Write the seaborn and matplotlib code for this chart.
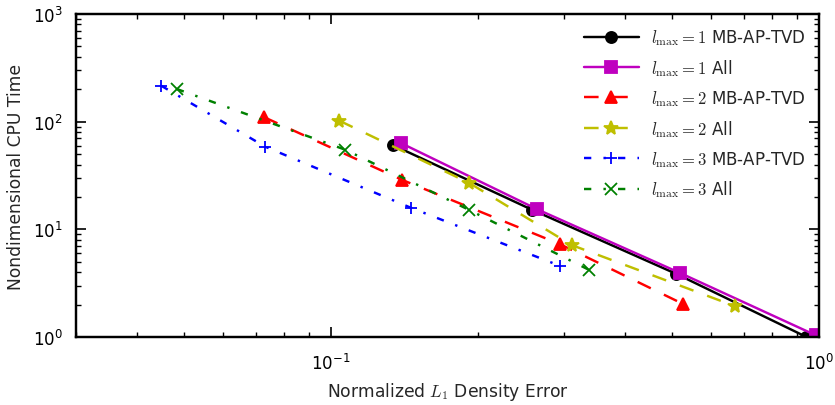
import numpy as np
import pandas as pd
import matplotlib
matplotlib.use("Agg")
import matplotlib.pyplot as plt
import seaborn as sns
from matplotlib.ticker import LogLocator, NullFormatter

# ---- data ----
labels = [r"$l_{\rm max}=1$ MB-AP-TVD", r"$l_{\rm max}=1$ All",
          r"$l_{\rm max}=2$ MB-AP-TVD", r"$l_{\rm max}=2$ All",
          r"$l_{\rm max}=3$ MB-AP-TVD", r"$l_{\rm max}=3$ All"]

err_l1_mb = [0.134, 0.258, 0.510, 0.942]
cpu_l1_mb = [60.5, 15.2, 3.85, 1.0]
err_l1_all = [0.139, 0.264, 0.519, 0.983]
cpu_l1_all = [63.3, 15.4, 3.93, 1.04]
err_l2_mb = [0.0729, 0.140, 0.294, 0.527]
cpu_l2_mb = [110, 28.7, 7.3, 2.02]
err_l2_all = [0.104, 0.192, 0.311, 0.673]
cpu_l2_all = [102, 26.9, 7.15, 1.93]
err_l3_mb = [0.0449, 0.0733, 0.146, 0.294]
cpu_l3_mb = [215, 58.5, 15.8, 4.59]
err_l3_all = [0.0483, 0.107, 0.192, 0.337]
cpu_l3_all = [201, 54.8, 15.1, 4.22]

errs = [err_l1_mb, err_l1_all, err_l2_mb, err_l2_all, err_l3_mb, err_l3_all]
cpus = [cpu_l1_mb, cpu_l1_all, cpu_l2_mb, cpu_l2_all, cpu_l3_mb, cpu_l3_all]

# ---- styles ----
colors = ["k", "m", "r", "y", "b", "g"]
markers = ["o", "s", "^", "*", "+", "x"]
dash = (0, (10.5, 10.5))
dashdot = (0, (5.25, 8.75, 1.75, 8.75))
linestyles = ["-", "-", dash, dash, dashdot, dashdot]
msizes = [8, 8, 9, 10, 9, 8]

sns.set_style("ticks")
plt.rcParams.update({
    "font.family": ["DejaVu Sans"],
    "mathtext.fontset": "cm",
    "axes.unicode_minus": False,
    "xtick.direction": "in",
    "ytick.direction": "in",
    "xtick.top": True,
    "ytick.right": True,
    "xtick.bottom": True,
    "ytick.left": True,
    "xtick.minor.visible": True,
    "ytick.minor.visible": True,
    "xtick.minor.size": 3.5,
    "ytick.minor.size": 3.5,
    "xtick.major.size": 7,
    "ytick.major.size": 7,
    "axes.linewidth": 1.75,
    "axes.edgecolor": "k",
    "lines.scale_dashes": False,
})

fig, ax = plt.subplots(figsize=(8.35, 4.06), dpi=100)
fig.subplots_adjust(left=0.091, right=0.981, top=0.963, bottom=0.1675)

for i in range(6):
    df = pd.DataFrame({"err": errs[i], "cpu": cpus[i]})
    sns.lineplot(data=df, x="err", y="cpu", ax=ax, sort=False, estimator=None,
                 color=colors[i], linestyle=linestyles[i], linewidth=1.75,
                 marker=markers[i], markersize=msizes[i],
                 markeredgecolor=colors[i], markerfacecolor=colors[i],
                 markeredgewidth=1.3, label=labels[i], clip_on=True)

ax.set_xscale("log")
ax.set_yscale("log")
ax.set_xlim(0.03, 1.0)
ax.set_ylim(1.0, 1000.0)

ax.xaxis.set_minor_locator(LogLocator(base=10, subs=np.arange(2, 10), numticks=20))
ax.yaxis.set_minor_locator(LogLocator(base=10, subs=np.arange(2, 10), numticks=20))
ax.xaxis.set_minor_formatter(NullFormatter())
ax.yaxis.set_minor_formatter(NullFormatter())
ax.tick_params(which="both", bottom=True, left=True, top=True, right=True,
               direction="in", colors="k")
ax.tick_params(which="major", length=7, width=1.2, labelsize=12)
ax.tick_params(which="minor", length=3.5, width=1.0)
ax.tick_params(axis="x", which="major", pad=11.5)
ax.tick_params(axis="y", which="major", pad=9.5)

ax.set_xlabel(r"Normalized $L_1$ Density Error", fontsize=12.3, labelpad=5)
ax.set_ylabel("Nondimensional CPU Time", fontsize=12.3, labelpad=6)

ax.legend(loc="upper right", frameon=False, fontsize=12, handlelength=3.3,
          labelspacing=0.6, borderaxespad=0.4, handletextpad=0.75, numpoints=1)

fig.savefig("out.png", dpi=100)
